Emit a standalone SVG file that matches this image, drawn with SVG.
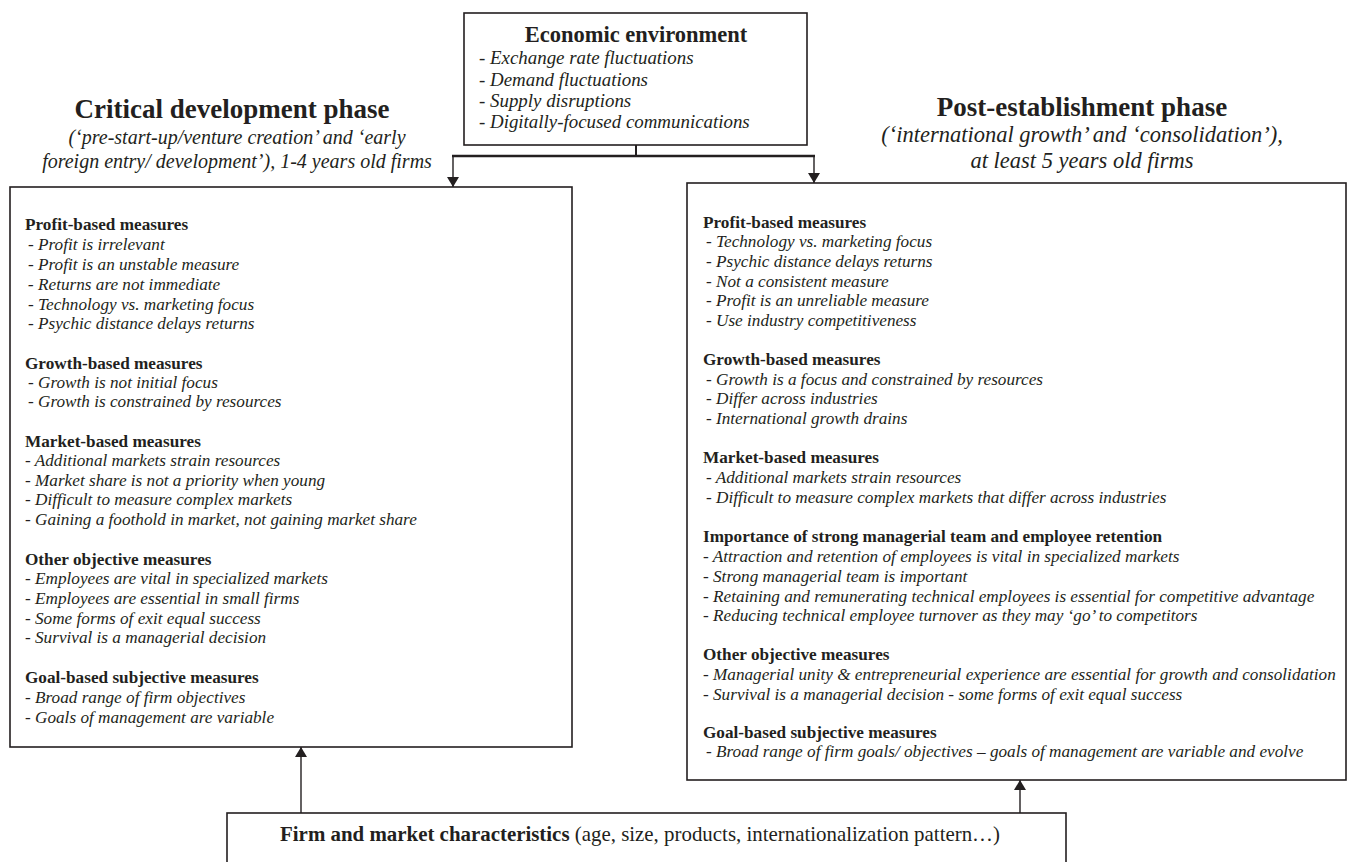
<svg xmlns="http://www.w3.org/2000/svg" width="1354" height="862" viewBox="0 0 1354 862">
<defs>
<marker id="arr" viewBox="0 0 10 12" refX="10" refY="6" markerWidth="10" markerHeight="12" markerUnits="userSpaceOnUse" orient="auto">
<path d="M0,0 L10,6 L0,12 Z" fill="#231f20"/>
</marker>
<style>
text{font-family:"Liberation Serif","Times New Roman",serif;fill:#231f20}
.box{fill:#fff;stroke:#231f20;stroke-width:1.6}
.h{font-weight:bold;font-size:17.2px}
.i{font-style:italic;font-size:17.2px}
.title{font-weight:bold;font-size:27px;text-anchor:middle}
.sub{font-style:italic;font-size:20px;text-anchor:middle}
.subr{font-style:italic;font-size:22.5px;text-anchor:middle}
.eh{font-weight:bold;font-size:22.5px;text-anchor:middle}
.ei{font-style:italic;font-size:18.9px}
.conn{stroke:#231f20;fill:none}
</style>
</defs>
<rect width="1354" height="862" fill="#fff"/>

<g id="titles">
<text class="title" x="232" y="118">Critical development phase</text>
<text class="sub" x="237" y="144">(‘pre-start-up/venture creation’ and ‘early</text>
<text class="sub" x="237" y="168">foreign entry/ development’), 1-4 years old firms</text>
<text class="title" x="1082" y="116">Post-establishment phase</text>
<text class="subr" x="1082" y="142">(‘international growth’ and ‘consolidation’),</text>
<text class="subr" x="1082" y="168">at least 5 years old firms</text>
</g>

<g id="economic-environment">
<rect class="box" x="464" y="13" width="343" height="132"/>
<text class="eh" x="636" y="42">Economic environment</text>
<text class="ei" x="479" y="64">- Exchange rate fluctuations</text>
<text class="ei" x="479" y="86">- Demand fluctuations</text>
<text class="ei" x="479" y="107">- Supply disruptions</text>
<text class="ei" x="479" y="128">- Digitally-focused communications</text>
</g>

<g id="critical-phase">
<rect class="box" x="10" y="187" width="562" height="560"/>
<text class="h" x="25" y="230">Profit-based measures</text>
<text class="i" x="28" y="250">- Profit is irrelevant</text>
<text class="i" x="28" y="270">- Profit is an unstable measure</text>
<text class="i" x="28" y="290"><tspan font-weight="bold">-</tspan> Returns are not immediate</text>
<text class="i" x="28" y="310">- Technology vs. marketing focus</text>
<text class="i" x="28" y="329">- Psychic distance delays returns</text>
<text class="h" x="25" y="369">Growth-based measures</text>
<text class="i" x="28" y="388">- Growth is not initial focus</text>
<text class="i" x="28" y="407">- Growth is constrained by resources</text>
<text class="h" x="25" y="447">Market-based measures</text>
<text class="i" x="25" y="466">- Additional markets strain resources</text>
<text class="i" x="25" y="486">- Market share is not a priority when young</text>
<text class="i" x="25" y="505">- Difficult to measure complex markets</text>
<text class="i" x="25" y="525">- Gaining a foothold in market, not gaining market share</text>
<text class="h" x="25" y="565">Other objective measures</text>
<text class="i" x="25" y="584">- Employees are vital in specialized markets</text>
<text class="i" x="25" y="604">- Employees are essential in small firms</text>
<text class="i" x="25" y="624">- Some forms of exit equal success</text>
<text class="i" x="25" y="643">- Survival is a managerial decision</text>
<text class="h" x="25" y="683">Goal-based subjective measures</text>
<text class="i" x="25" y="703">- Broad range of firm objectives</text>
<text class="i" x="25" y="723">- Goals of management are variable</text>
</g>

<g id="post-establishment-phase">
<rect class="box" x="687" y="183" width="659" height="597"/>
<text class="h" x="703" y="228">Profit-based measures</text>
<text class="i" x="706" y="247">- Technology vs. marketing focus</text>
<text class="i" x="706" y="267">- Psychic distance delays returns</text>
<text class="i" x="706" y="287">- Not a consistent measure</text>
<text class="i" x="706" y="306">- Profit is an unreliable measure</text>
<text class="i" x="706" y="326">- Use industry competitiveness</text>
<text class="h" x="703" y="365">Growth-based measures</text>
<text class="i" x="706" y="385">- Growth is a focus and constrained by resources</text>
<text class="i" x="706" y="404">- Differ across industries</text>
<text class="i" x="706" y="424">- International growth drains</text>
<text class="h" x="703" y="463">Market-based measures</text>
<text class="i" x="706" y="483">- Additional markets strain resources</text>
<text class="i" x="706" y="503">- Difficult to measure complex markets that differ across industries</text>
<text class="h" x="703" y="542">Importance of strong managerial team and employee retention</text>
<text class="i" x="703" y="562">- Attraction and retention of employees is vital in specialized markets</text>
<text class="i" x="703" y="582">- Strong managerial team is important</text>
<text class="i" x="703" y="602">- Retaining and remunerating technical employees is essential for competitive advantage</text>
<text class="i" x="703" y="621">- Reducing technical employee turnover as they may ‘go’ to competitors</text>
<text class="h" x="703" y="660">Other objective measures</text>
<text class="i" x="703" y="680">- Managerial unity &amp; entrepreneurial experience are essential for growth and consolidation</text>
<text class="i" x="703" y="700">- Survival is a managerial decision - some forms of exit equal success</text>
<text class="h" x="703" y="738">Goal-based subjective measures</text>
<text class="i" x="706" y="757">- Broad range of firm goals/ objectives – goals of management are variable and evolve</text>
</g>

<g id="firm-market-characteristics">
<rect class="box" x="227" y="813" width="839" height="60"/>
<text x="640" y="841" font-size="20.9" text-anchor="middle"><tspan font-weight="bold">Firm and market characteristics</tspan> (age, size, products, internationalization pattern…)</text>
</g>

<g id="connectors">
<line class="conn" x1="636" y1="145" x2="636" y2="156" stroke-width="2"/>
<line class="conn" x1="452" y1="156" x2="815" y2="156" stroke-width="2.6"/>
<line class="conn" x1="453" y1="156" x2="453" y2="187" stroke-width="1.4" marker-end="url(#arr)"/>
<line class="conn" x1="814" y1="156" x2="814" y2="183" stroke-width="1.4" marker-end="url(#arr)"/>
<line class="conn" x1="301" y1="813" x2="301" y2="747" stroke-width="1.4" marker-end="url(#arr)"/>
<line class="conn" x1="1020" y1="813" x2="1020" y2="780" stroke-width="1.4" marker-end="url(#arr)"/>
</g>
</svg>
